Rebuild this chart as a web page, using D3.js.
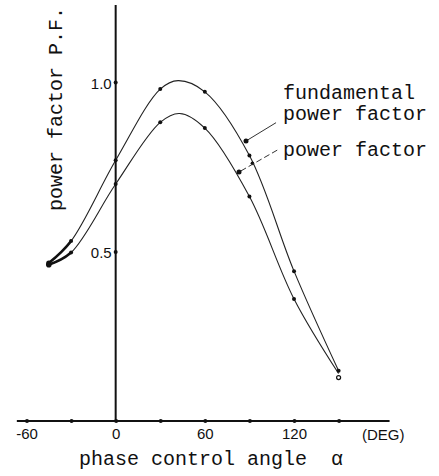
<!DOCTYPE html>
<html>
<head>
<meta charset="utf-8">
<script src="https://cdn.jsdelivr.net/npm/d3@7"></script>
<style>
  html, body { margin: 0; padding: 0; background: #fff; }
  svg { display: block; }
  .mono { font-family: "Liberation Mono", "Courier New", monospace; font-size: 20px; fill: #111; }
  .tick-label { font-family: "Liberation Sans Narrow", "Arial Narrow", "Liberation Sans", sans-serif; font-size: 15px; fill: #111; }
</style>
</head>
<body>
<script>
// ---------------- data ----------------
// measured (marked) points
const angles = [-45, -30, 0, 30, 60, 90, 120, 150];
const fundamentalPF = [0.466, 0.531, 0.769, 0.979, 0.971, 0.783, 0.442, 0.148];
const powerFactor   = [0.461, 0.497, 0.699, 0.881, 0.864, 0.662, 0.360, 0.140];
// curve peaks (unmarked)
const fundamentalPeak = [42, 1.004];
const powerFactorPeak = [43, 0.907];
const openPoint = [150, 0.128];
const extraDot = [92, 0.760];
const xTicks = [-60, -30, 0, 30, 60, 90, 120, 150];
const xTickLabels = ["-60", "", "0", "", "60", "", "120", ""];
const yTicks = [0.5, 1.0];
const yTickLabels = ["0.5", "1.0"];
const seriesLabels = ["fundamental", "power factor", "power factor"];
// leader lines: [label end (deg, pf), curve end (deg, pf)]
const leaderFund = [[107.9, 0.880], [87.7, 0.826]];
const leaderPF   = [[108.7, 0.799], [83.0, 0.7345]];

// ---------------- layout ----------------
const W = 439, H = 476;
const svg = d3.select("body").append("svg").attr("width", W).attr("height", H);

const x = d3.scaleLinear().domain([-60, 150]).range([26.5, 338.6]);
const y = d3.scaleLinear().domain([0, 1]).range([421, 82]);

// axes lines
svg.append("line")
  .attr("x1", x(-66.5)).attr("x2", x(184.3))
  .attr("y1", y(0)).attr("y2", y(0))
  .attr("stroke", "#111").attr("stroke-width", 2);
svg.append("line")
  .attr("x1", x(0)).attr("x2", x(0))
  .attr("y1", y(0)).attr("y2", y(1.227))
  .attr("stroke", "#111").attr("stroke-width", 2);

// x axis ticks (via d3 axis for labels)
const xAxis = d3.axisBottom(x)
  .tickValues(xTicks)
  .tickSize(0)
  .tickPadding(8)
  .tickFormat((d, i) => xTickLabels[i]);
const gx = svg.append("g").attr("transform", `translate(0,${y(0)})`).call(xAxis);
gx.select(".domain").remove();
gx.selectAll("text").attr("class", "tick-label").attr("font-size", null).attr("font-family", null)
  .attr("dy", "0.75em").attr("y", 7);
gx.selectAll(".tick").append("circle").attr("r", 2).attr("fill", "#111");

svg.append("text").attr("class", "tick-label")
  .attr("x", x(180)).attr("y", y(0) + 19)
  .attr("text-anchor", "middle").text("(DEG)");

// y axis ticks
const yAxis = d3.axisLeft(y)
  .tickValues(yTicks)
  .tickSize(0)
  .tickPadding(4)
  .tickFormat((d, i) => yTickLabels[i]);
const gy = svg.append("g").attr("transform", `translate(${x(0)},0)`).call(yAxis);
gy.select(".domain").remove();
gy.selectAll("text").attr("class", "tick-label").attr("font-size", null).attr("font-family", null)
  .attr("dy", "0.4em");
gy.selectAll(".tick").append("circle").attr("r", 2).attr("fill", "#111");

// curves
const line = d3.line()
  .x(d => x(d[0])).y(d => y(d[1]))
  .curve(d3.curveCatmullRom.alpha(0.5));

const upper = angles.map((a, i) => [a, fundamentalPF[i]]);
const lower = angles.map((a, i) => [a, powerFactor[i]]);
const upperTrace = upper.concat([fundamentalPeak]).sort((a, b) => a[0] - b[0]);
const lowerTrace = lower.concat([powerFactorPeak]).sort((a, b) => a[0] - b[0]);

svg.append("defs").append("clipPath").attr("id", "leftClip")
  .append("rect").attr("x", 0).attr("y", 0).attr("width", x(-30)).attr("height", H);

[upperTrace, lowerTrace].forEach(s => {
  svg.append("path").attr("d", line(s))
    .attr("fill", "none").attr("stroke", "#222").attr("stroke-width", 1.1);
  svg.append("path").attr("d", line(s)).attr("clip-path", "url(#leftClip)")
    .attr("fill", "none").attr("stroke", "#111").attr("stroke-width", 2.6);
});

// markers
svg.selectAll(".mu").data(upper).enter().append("circle")
  .attr("cx", d => x(d[0])).attr("cy", d => y(d[1]))
  .attr("r", (d, i) => i === 0 ? 2.6 : 2).attr("fill", "#111");
svg.selectAll(".ml").data(lower.slice(0, lower.length - 1)).enter().append("circle")
  .attr("cx", d => x(d[0])).attr("cy", d => y(d[1]))
  .attr("r", (d, i) => i === 0 ? 2.8 : 2).attr("fill", "#111");
svg.append("circle")
  .attr("cx", x(openPoint[0])).attr("cy", y(openPoint[1]))
  .attr("r", 2).attr("fill", "#fff").attr("stroke", "#111").attr("stroke-width", 1.2);
svg.append("circle")
  .attr("cx", x(extraDot[0])).attr("cy", y(extraDot[1]))
  .attr("r", 1.8).attr("fill", "#111");

// leader lines
svg.append("line")
  .attr("x1", x(leaderFund[0][0])).attr("y1", y(leaderFund[0][1]))
  .attr("x2", x(leaderFund[1][0])).attr("y2", y(leaderFund[1][1]))
  .attr("stroke", "#333").attr("stroke-width", 1);
svg.append("circle").attr("cx", x(leaderFund[1][0])).attr("cy", y(leaderFund[1][1]))
  .attr("r", 2.5).attr("fill", "#111");
svg.append("line")
  .attr("x1", x(leaderPF[0][0])).attr("y1", y(leaderPF[0][1]))
  .attr("x2", x(leaderPF[1][0])).attr("y2", y(leaderPF[1][1]))
  .attr("stroke", "#333").attr("stroke-width", 1).attr("stroke-dasharray", "6,3");
svg.append("circle").attr("cx", x(leaderPF[1][0])).attr("cy", y(leaderPF[1][1]))
  .attr("r", 2.5).attr("fill", "#111");

// series labels
const labelY = [98.5, 120, 156];
seriesLabels.forEach((t, i) => {
  svg.append("text").attr("class", "mono")
    .attr("x", 283).attr("y", labelY[i]).text(t);
});

// axis titles
svg.append("text").attr("class", "mono")
  .attr("x", 79).attr("y", 465)
  .style("white-space", "pre")
  .text("phase control angle  \u03b1");

svg.append("text").attr("class", "mono")
  .attr("transform", "translate(61.5,109) rotate(-90)")
  .attr("text-anchor", "middle")
  .text("power factor P.F.");
</script>
</body>
</html>
